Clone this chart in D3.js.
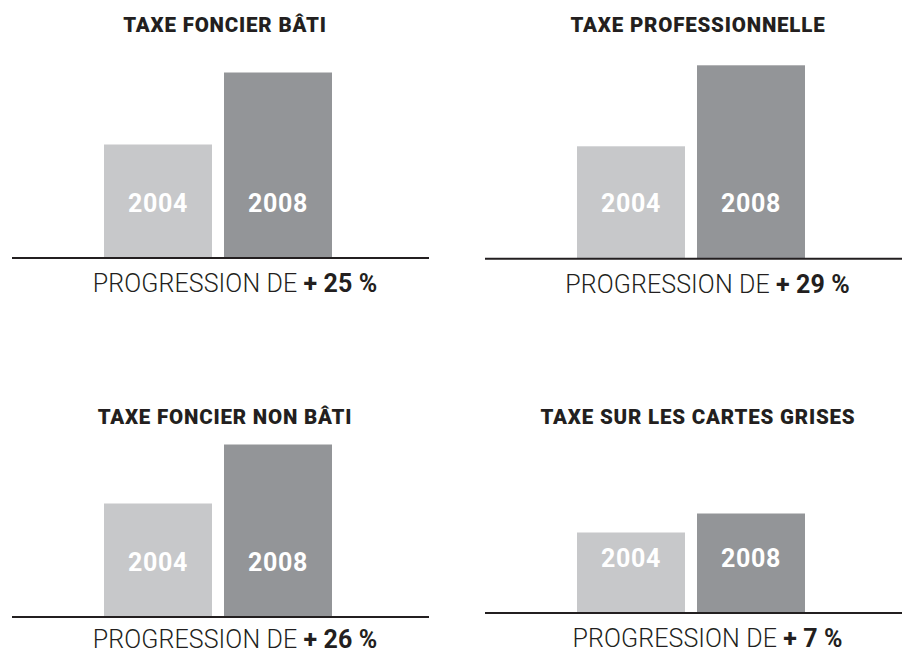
<!DOCTYPE html>
<html><head><meta charset="utf-8">
<script src="https://cdn.jsdelivr.net/npm/d3@7"></script>
<style>
html,body{margin:0;padding:0;background:#fff;}
svg{display:block;}
</style></head>
<body>
<svg id="chart" width="902" height="653"></svg>
<script>
const titles = ["TAXE FONCIER BÂTI", "TAXE PROFESSIONNELLE", "TAXE FONCIER NON BÂTI", "TAXE SUR LES CARTES GRISES"];
const years = ["2004", "2008"];
const values2004 = [113, 112, 113, 80];
const values2008 = [185, 193, 172, 99];
const progression = ["+ 25 %", "+ 29 %", "+ 26 %", "+ 7 %"];
const labelPrefix = "PROGRESSION DE ";

// layout (positions only)
const panels = [
  {dx: 0,   titleY: 32,  baseY: 257.5, labelDy: 34.5},
  {dx: 473, titleY: 32,  baseY: 258.3, labelDy: 34.5},
  {dx: 0,   titleY: 424, baseY: 616.5, labelDy: 31.5},
  {dx: 473, titleY: 424, baseY: 612.5, labelDy: 34}
];
const colors = {"2004": "#c7c8ca", "2008": "#939598"};
const ink = "#231f20";

const svg = d3.select("#chart");
const x = d3.scaleBand().domain(years).range([104, 332]).paddingInner(0.1).paddingOuter(0);
const h = d3.scaleLinear().domain([0, 200]).range([0, 200]);

panels.forEach((p, i) => {
  const g = svg.append("g").attr("transform", `translate(${p.dx},0)`);
  const vals = [values2004[i], values2008[i]];
  g.append("text")
    .attr("x", 225).attr("y", p.titleY)
    .attr("text-anchor", "middle")
    .attr("font-family", "Roboto, sans-serif")
    .attr("font-weight", 900)
    .attr("font-size", 20.5)
    .attr("letter-spacing", 0.8)
    .attr("fill", ink)
    .text(titles[i]);
  g.selectAll("rect.bar").data(years).join("rect")
    .attr("class", "bar")
    .attr("x", d => x(d))
    .attr("width", x.bandwidth())
    .attr("y", (d, j) => p.baseY - h(vals[j]))
    .attr("height", (d, j) => h(vals[j]))
    .attr("fill", d => colors[d]);
  g.selectAll("text.year").data(years).join("text")
    .attr("class", "year")
    .attr("x", d => x(d) + x.bandwidth() / 2)
    .attr("y", p.baseY - 46)
    .attr("text-anchor", "middle")
    .attr("font-family", "Roboto, sans-serif")
    .attr("font-weight", 700)
    .attr("font-size", 25)
    .attr("letter-spacing", 0.6)
    .attr("fill", "#fff")
    .text(d => d);
  g.append("line")
    .attr("x1", 12).attr("x2", 429)
    .attr("y1", p.baseY + 0.5).attr("y2", p.baseY + 0.5)
    .attr("stroke", ink).attr("stroke-width", 2);
  const t = g.append("text")
    .attr("x", i % 2 === 0 ? 235 : 234.5).attr("y", p.baseY + p.labelDy)
    .attr("text-anchor", "middle")
    .attr("font-family", "Roboto, sans-serif")
    .attr("font-size", 25)
    .attr("letter-spacing", 0.1)
    .attr("fill", ink);
  t.append("tspan").attr("font-weight", 300).text(labelPrefix);
  t.append("tspan").attr("font-weight", 700).text(progression[i]);
});
</script>
</body></html>
